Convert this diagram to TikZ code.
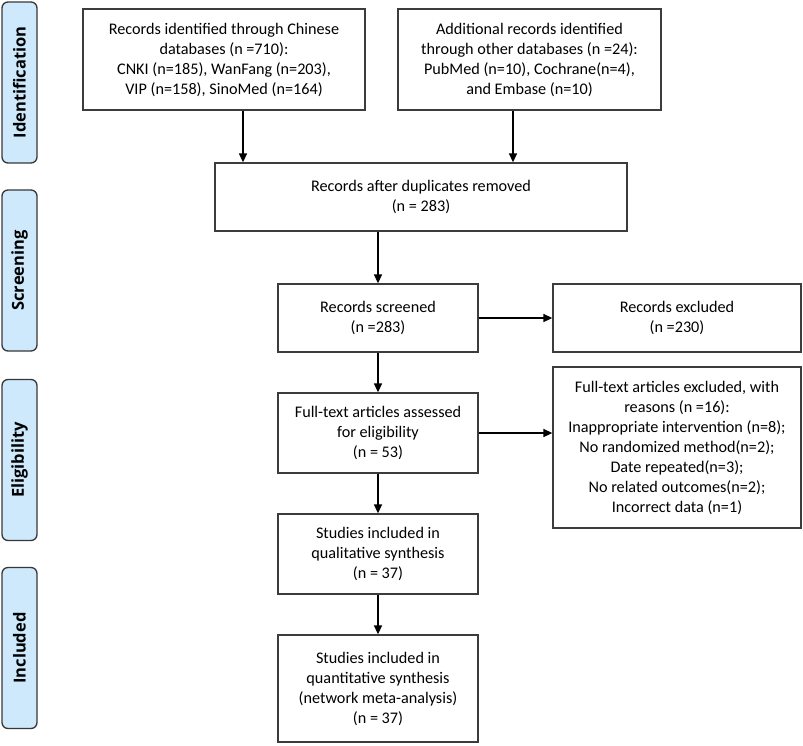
\documentclass[tikz,border=0pt]{standalone}
\usepackage{fontspec}
\setmainfont{Carlito}
\newfontfamily\sidefont{Open Sans}
\usetikzlibrary{arrows.meta,calc}
\definecolor{boxline}{RGB}{60,60,60}
\definecolor{sidefill}{RGB}{205,233,251}
\definecolor{sideline}{RGB}{55,55,55}
\begin{document}
\begin{tikzpicture}[x=1pt,y=-1pt,
  box/.style={draw=boxline, line width=1.3pt, fill=white, align=center,
    inner sep=0pt, font=\fontsize{16.2}{20}\selectfont},
  side/.style={draw=sideline, fill=sidefill, line width=1.3pt, rounded corners=6pt,
    rotate=90, minimum width=161pt, minimum height=35pt, inner sep=0pt,
    font=\sidefont\bfseries\fontsize{16.5}{18}\selectfont},
  arr/.style={draw=black, line width=1.5pt, -{Triangle[length=9pt,width=8pt]}}]
\useasboundingbox (0,0) rectangle (803,745);

% side labels
\node[side] (s1) at (19.5,82.5) {Identification};
\node[side] (s2) at (19.5,270.5) {Screening};
\node[side] (s3) at (19.5,460) {Eligibility};
\node[side] (s4) at (19.5,648) {Included};

% boxes
\node[box, minimum width=282pt, minimum height=101pt] (A) at (224,59.5)
  {Records identified through Chinese\\databases (n =710):\\CNKI (n=185), WanFang (n=203),\\VIP (n=158), SinoMed (n=164)};
\node[box, minimum width=263pt, minimum height=101pt] (B) at (529.5,59.5)
  {Additional records identified\\through other databases (n =24):\\PubMed (n=10), Cochrane(n=4),\\and Embase (n=10)};
\node[box, minimum width=412pt, minimum height=68pt] (C) at (421,197)
  {Records after duplicates removed\\(n = 283)};
\node[box, minimum width=200pt, minimum height=68pt] (D) at (378,318)
  {Records screened\\(n =283)};
\node[box, minimum width=248pt, minimum height=68pt] (E) at (677,318)
  {Records excluded\\(n =230)};
\node[box, minimum width=200pt, minimum height=80pt] (G) at (378,433)
  {Full-text articles assessed\\for eligibility\\(n = 53)};
\node[box, minimum width=248pt, minimum height=161pt] (F) at (677,447.5)
  {Full-text articles excluded, with\\reasons (n =16):\\Inappropriate intervention (n=8);\\No randomized method(n=2);\\Date repeated(n=3);\\No related outcomes(n=2);\\Incorrect data (n=1)};
\node[box, minimum width=200pt, minimum height=80pt] (H) at (378,554)
  {Studies included in\\qualitative synthesis\\(n = 37)};
\node[box, minimum width=200pt, minimum height=107pt] (I) at (378,688.5)
  {Studies included in\\quantitative synthesis\\(network meta-analysis)\\(n = 37)};

% connectors
\draw[arr] ([xshift=19pt]A.south) -- ([xshift=19pt]A.south |- C.north);
\draw[arr] ([xshift=-16.5pt]B.south) -- ([xshift=-16.5pt]B.south |- C.north);
\draw[arr] (C.south -| D.north) -- (D.north);
\draw[arr] (D.east) -- (E.west);
\draw[arr] (D.south) -- (G.north);
\draw[arr] (G.east) -- (G.east -| F.west);
\draw[arr] (G.south) -- (H.north);
\draw[arr] (H.south) -- (I.north);
\end{tikzpicture}
\end{document}
